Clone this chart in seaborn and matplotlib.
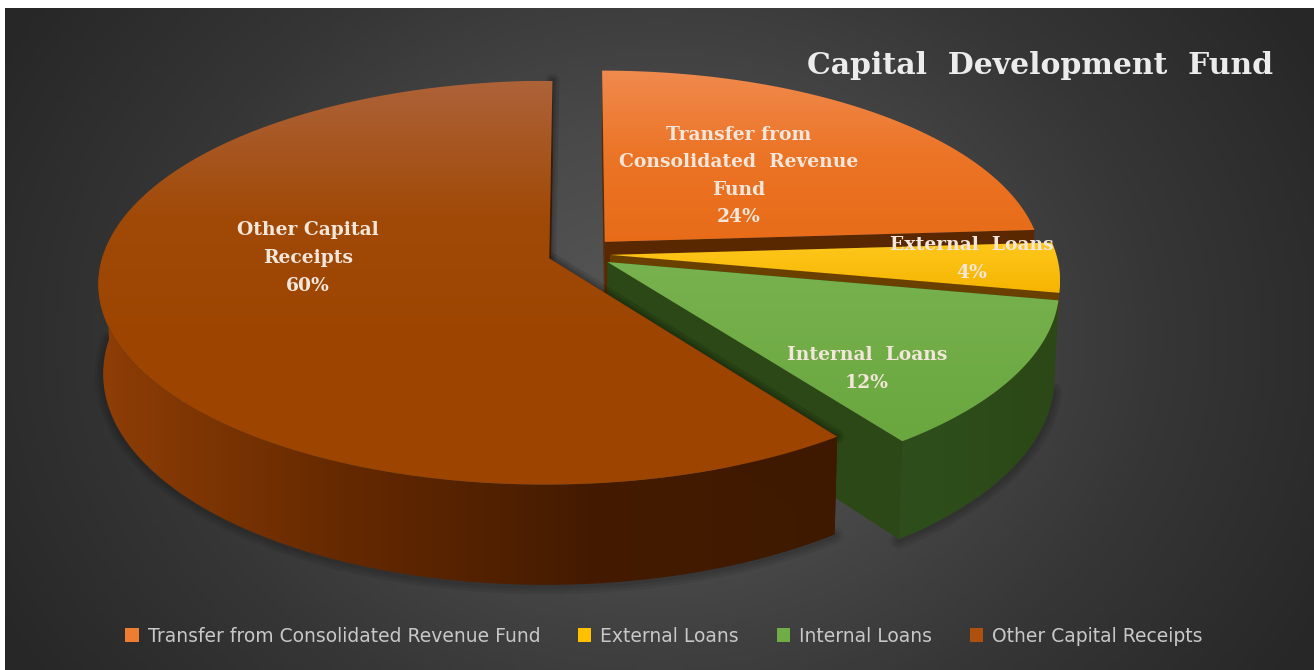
import numpy as np
import seaborn as sns
import matplotlib.pyplot as plt
from matplotlib.patches import Polygon, Patch, Rectangle

categories = ["Transfer from Consolidated Revenue Fund", "External Loans", "Internal Loans", "Other Capital Receipts"]
shares = [24, 4, 12, 60]
slice_labels = ["Transfer from\nConsolidated  Revenue\nFund", "External  Loans", "Internal  Loans", "Other Capital\nReceipts"]
legend_colors = ["#ed7d31", "#ffc000", "#70ad47", "#b0500f"]
explode = [0.085, 0.07, 0.075, 0.07]
radius = [0.98, 1, 1, 1]
wall_depth = [1, 0.3, 1, 1]

# gradients for each slice: top face (top to bottom) and side wall (left to right)
face_colors = [["#f08a4e", "#ec7426", "#e86c18"], ["#ffc81e", "#f5b400"], ["#78b250", "#6aa73e"], ["#ad6238", "#a14a08", "#9c4400", "#9c4400"]]
wall_colors = [["#5e2a00", "#5a2800"], ["#6e4500", "#6a4000"], ["#2e4f1c", "#2b4816"], ["#8f3e06", "#652900", "#441b00", "#3e1900"]]
label_pos = [(739, 176), (972, 259), (867, 369), (308, 258)]

CX, CY = 579, 254
RX, RY = 446, 198
PERSP = 0.12
DEPTH = 88

sns.set_theme(style="white")

fig = plt.figure(figsize=(13.14, 6.70), dpi=100)
ax = fig.add_axes([0, 0, 1, 1])
ax.axis("off")


def project(u, v, low=False):
    s = 1 / (1 + PERSP * v)
    if low:
        return CX + 0.99 * RX * u * s, CY - RY * v * s + DEPTH * s
    return CX + RX * u * s, CY - RY * v * s


def arc(t0, t1, off, r=1, low=False):
    t = np.radians(np.linspace(t0, t1, 200))
    x, y = project(off[0] + r * np.sin(t), off[1] + r * np.cos(t), low)
    return np.column_stack([x, y])


def grad_fill(pts, colors, horizontal=False, z=1):
    cmap = sns.blend_palette(colors, as_cmap=True)
    x0, x1 = pts[:, 0].min(), pts[:, 0].max()
    y0, y1 = pts[:, 1].min(), pts[:, 1].max()
    g = np.linspace(0, 1, 256)
    g = g[None, :] if horizontal else g[:, None]
    im = ax.imshow(g, cmap=cmap, extent=(x0, x1, y1, y0), aspect="auto", zorder=z, vmin=0, vmax=1)
    patch = Polygon(pts, closed=True, fc="none", ec="none", zorder=z)
    ax.add_patch(patch)
    im.set_clip_path(patch)


# background, a white edge is left at the top and left of the picture
bx, by = np.meshgrid(np.linspace(0, 1, 330), np.linspace(0, 1, 170))
dist = np.sqrt(((bx - 0.5) / 0.8) ** 2 + ((by - 0.5) / 1.3) ** 2)
bg_cmap = sns.blend_palette(["#585858", "#4a4a4a", "#363636", "#272727"], as_cmap=True)
ax.imshow(dist, cmap=bg_cmap, extent=(5, 1314, 670, 8), aspect="auto", zorder=0, vmin=0, vmax=0.72)

edges = np.cumsum([0] + shares) * 360 / sum(shares)

z = 2
for i in range(len(shares)):
    a, b = edges[i], edges[i + 1]
    mid = np.radians((a + b) / 2)
    off = (explode[i] * np.sin(mid), explode[i] * np.cos(mid))
    r = radius[i]
    apex_hi = np.array(project(off[0], off[1]))
    apex_lo = np.array(project(off[0], off[1], True))

    # soft shadow along the outer wall
    w0, w1 = max(a, 90), min(b, 272)
    if w1 > w0 and wall_depth[i] == 1:
        top = arc(w0, w1, off, r)
        low = arc(w0, w1, off, r, True)
        for lw in [12, 8, 4]:
            ax.plot(low[:, 0], low[:, 1] + 1, color="black", alpha=0.07, lw=lw, zorder=z, solid_capstyle="round")
        z += 1
        grad_fill(np.vstack([top, low[::-1]]), wall_colors[i], True, z)
        z += 1

    # cut walls
    for t in [a, b]:
        e_hi = arc(t, t, off, r)[0]
        e_lo = e_hi + wall_depth[i] * (arc(t, t, off, r, True)[0] - e_hi)
        pts = np.array([apex_hi, e_hi, e_lo, apex_hi + wall_depth[i] * (apex_lo - apex_hi)])
        if i == 3:
            for lw in [10, 6, 3]:
                ax.plot(pts[:2, 0], pts[:2, 1], color="black", alpha=0.1, lw=lw, zorder=z)
        ax.add_patch(Polygon(pts, closed=True, fc=wall_colors[i][-1], ec="none", zorder=z))
        z += 1

    # top face
    face = np.vstack([apex_hi, arc(a, b, off, r)])
    grad_fill(face, face_colors[i], False, z)
    z += 1

for i in range(len(shares)):
    txt = slice_labels[i] + "\n" + str(shares[i]) + "%"
    ax.text(label_pos[i][0], label_pos[i][1], txt, ha="center", va="center", family="DejaVu Serif",
            fontweight="bold", fontsize=13.5, color="#f3e6da", linespacing=1.68, zorder=z + 1)

ax.text(1040, 66, "Capital  Development  Fund", ha="center", va="center", family="DejaVu Serif",
        fontweight="bold", fontsize=21.5, color="#ececec", zorder=z + 1)

handles = [Patch(fc=c, ec="none") for c in legend_colors]
leg = ax.legend(handles, categories, ncol=4, loc="center", bbox_to_anchor=(664 / 1314, 1 - 636 / 670),
                frameon=False, labelcolor="#c8c8c8", handlelength=0.7, handleheight=0.7,
                handletextpad=0.5, columnspacing=2.0, prop={"family": "DejaVu Sans", "size": 13.5})

# white edge
ax.add_patch(Rectangle((0, 0), 1314, 8, fc="white", ec="none", zorder=0))
ax.set_xlim(0, 1314)
ax.set_ylim(670, 0)

fig.savefig("out.png", dpi=100, facecolor="white")
